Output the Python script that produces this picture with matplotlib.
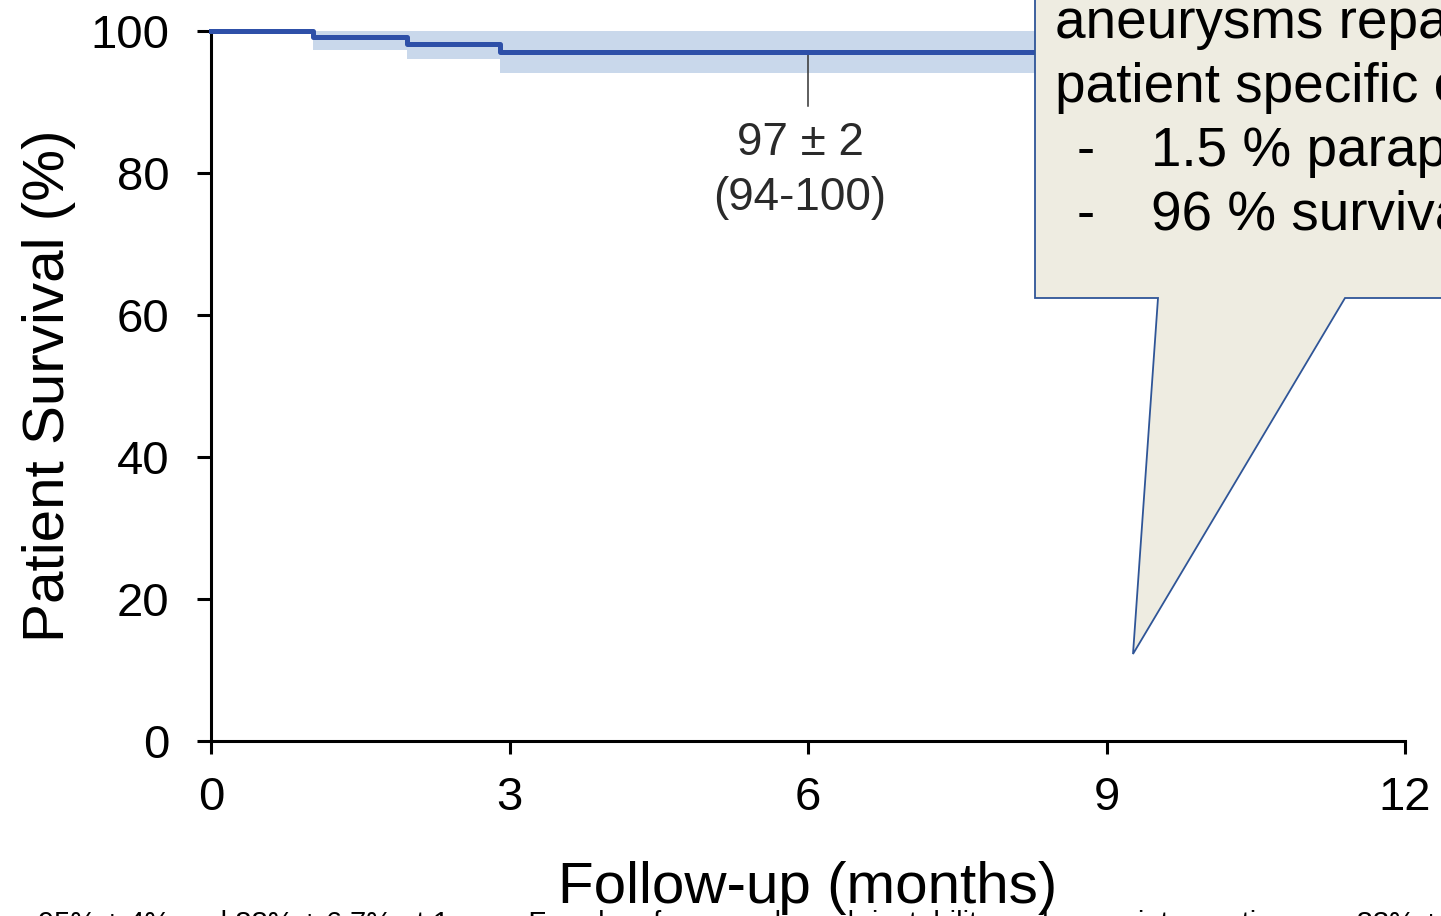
import matplotlib
matplotlib.use('Agg')
import numpy as np
from matplotlib import pyplot as plt
from matplotlib.patches import Polygon

plt.rcParams['font.family'] = ['Liberation Sans', 'DejaVu Sans']

# Kaplan-Meier steps
months = [0, 1.03, 1.97, 2.9, 12]
survival = [100, 99.1, 98.2, 97.0, 97.0]
ci_low = [100, 97.3, 96.0, 94.1, 94.1]
ci_high = [100, 100, 100, 100, 100]
xticks = [0, 3, 6, 9, 12]
yticks = [0, 20, 40, 60, 80, 100]
note_x, note_y = 6, 97.0
note_text = '97 ± 2\n(94-100)'
callout_lines = ['aneurysms repaired with', 'patient specific endografts']
callout_bullets = ['1.5 % paraplegia', '96 % survival']

W, H = 1441, 916
fig = plt.figure(figsize=(W / 100, H / 100), dpi=100)
ax = fig.add_axes([211 / W, (H - 741) / H, 1194 / W, 710 / H])

line_col = '#2E50A8'
band_col = '#C9D8EB'
ax.fill_between(months, ci_low, ci_high, step='post', color=band_col, lw=0)
ax.step(months, survival, where='post', color=line_col, lw=3.6, clip_on=False,
        zorder=3)

ax.set_xlim(0, 12)
ax.set_ylim(0, 100)
ax.set_xticks(xticks)
ax.set_yticks(yticks)
ax.tick_params(axis='both', labelsize=34, width=2.2, colors='black')
ax.tick_params(axis='y', length=10, pad=20)
ax.tick_params(axis='x', length=9, pad=16)
for s in ['top', 'right']:
    ax.spines[s].set_visible(False)
for s in ['left', 'bottom']:
    ax.spines[s].set_linewidth(2.2)
ax.set_xlabel('Follow-up (months)', fontsize=42, labelpad=30)
ax.set_ylabel('Patient Survival (%)', fontsize=42, labelpad=10)

# annotation
ax.plot([note_x, note_x], [note_y, note_y - 7.6], color='#333333', lw=1.1)
ax.text(note_x - 0.08, note_y - 9.7, note_text, ha='center', va='top',
        fontsize=33, color='#2a2a2a', linespacing=1.32)

# overlay in pixel coords for the callout and the cut-off page text
ov = fig.add_axes([0, 0, 1, 1])
ov.set_xlim(0, W)
ov.set_ylim(H, 0)
ov.axis('off')
ov.patch.set_alpha(0)
callout = [(1035, -5), (1035, 298), (1158, 298), (1133, 654), (1345, 298),
           (1460, 298), (1460, -5)]
ov.add_patch(Polygon(callout, closed=True, facecolor='#EEECE1',
                     edgecolor='#2F5597', lw=1.3, clip_on=False))
for txt, yb in zip(callout_lines, [38, 102]):
    ov.text(1055, yb, txt, fontsize=39.5, va='baseline', ha='left', color='black')
for txt, yb in zip(callout_bullets, [166, 230]):
    ov.text(1077, yb, '-', fontsize=39.5, va='baseline', ha='left', color='black')
    ov.text(1151, yb, txt, fontsize=39.5, va='baseline', ha='left', color='black')

ov.text(38, 932, '95% ± 4% and 88% ± 6.7% at 1 year. Freedom from any branch instability '
        'and any reintervention was 83% ± 5.1%', fontsize=21, va='baseline',
        ha='left', color='black')

fig.savefig('out.png', dpi=100)
